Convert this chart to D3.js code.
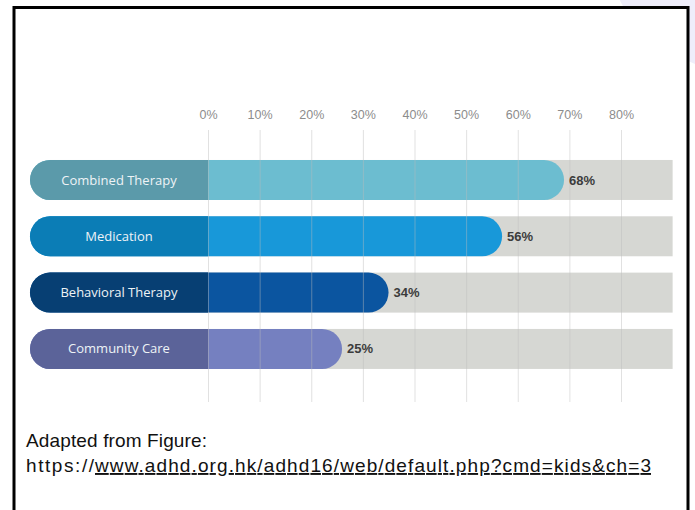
<!DOCTYPE html>
<html>
<head>
<meta charset="utf-8">
<script src="https://cdn.jsdelivr.net/npm/d3@7"></script>
<style>
  body { margin: 0; background: #fff; }
  svg { display: block; }
</style>
</head>
<body>
<div id="vis"></div>
<script>
const FRAME_WIDTH = 695;
const FRAME_HEIGHT = 510;

// data
const categories = ["Combined Therapy", "Medication", "Behavioral Therapy", "Community Care"];
const values = [68, 56, 34, 25];
const tickValues = [0, 10, 20, 30, 40, 50, 60, 70, 80];
const labelColors = ["#5b9aaa", "#0b7db6", "#073f73", "#5b6399"];
const barColors = ["#6cbdd0", "#1898d9", "#0b55a0", "#7580c0"];
const trackColor = "#d6d7d3";

const LABEL_LEFT = 30;
const GRID_TOP = 130;
const GRID_BOTTOM = 402;

const svg = d3.select("#vis")
  .append("svg")
    .attr("width", FRAME_WIDTH)
    .attr("height", FRAME_HEIGHT);

// faint lavender blob in the top-right corner, mostly hidden behind the white panel
svg.append("ellipse")
  .attr("cx", 780).attr("cy", -40)
  .attr("rx", 170).attr("ry", 120)
  .attr("fill", "#eeedfa");
svg.append("rect")
  .attr("x", 14).attr("y", 7.5)
  .attr("width", 674).attr("height", 510)
  .attr("fill", "#fff");

const X_SCALE = d3.scaleLinear()
  .domain([0, 80])
  .range([208, 621]);

const Y_SCALE = d3.scaleBand()
  .domain(categories)
  .range([151.8, 377.1])
  .paddingInner(0.29)
  .paddingOuter(0.145);

const rows = categories.map((c, i) => ({name: c, value: values[i], i: i}));
const bh = Y_SCALE.bandwidth();
const r = bh / 2;

// grey tracks
svg.selectAll(".track")
  .data(rows)
  .join("rect")
    .attr("class", "track")
    .attr("x", LABEL_LEFT + r)
    .attr("y", d => Y_SCALE(d.name))
    .attr("width", X_SCALE(90) - LABEL_LEFT - r)
    .attr("height", bh)
    .attr("fill", trackColor);

// value bars, pill shaped
svg.selectAll(".bar")
  .data(rows)
  .join("rect")
    .attr("class", "bar")
    .attr("x", LABEL_LEFT)
    .attr("y", d => Y_SCALE(d.name))
    .attr("width", d => X_SCALE(d.value) + 5 - LABEL_LEFT)
    .attr("height", bh)
    .attr("rx", r)
    .attr("fill", d => barColors[d.i]);

// darker label part on the left
svg.selectAll(".labelbox")
  .data(rows)
  .join("path")
    .attr("class", "labelbox")
    .attr("fill", d => labelColors[d.i])
    .attr("d", d => {
      const y0 = Y_SCALE(d.name), x1 = X_SCALE(0);
      return `M${x1},${y0} L${LABEL_LEFT + r},${y0} A${r},${r} 0 0 0 ${LABEL_LEFT + r},${y0 + bh} L${x1},${y0 + bh} Z`;
    });

svg.selectAll(".catlabel")
  .data(rows)
  .join("text")
    .attr("class", "catlabel")
    .attr("x", (LABEL_LEFT + X_SCALE(0)) / 2)
    .attr("y", d => Y_SCALE(d.name) + bh / 2)
    .attr("dy", "0.35em")
    .attr("text-anchor", "middle")
    .attr("font-family", "'Open Sans', sans-serif")
    .attr("font-size", "13px")
    .attr("fill", "#eef3f6")
    .text(d => d.name);

// axis with full-height grid lines, drawn over the bars
const axis = svg.append("g")
  .attr("transform", `translate(0, ${GRID_TOP})`)
  .call(d3.axisTop(X_SCALE)
    .tickValues(tickValues)
    .tickFormat(d => d + "%")
    .tickSize(-(GRID_BOTTOM - GRID_TOP))
    .tickPadding(11));

axis.select(".domain").remove();
axis.selectAll(".tick line")
  .attr("stroke", "#bdbdbd")
  .attr("stroke-opacity", 0.45);
axis.selectAll(".tick text")
  .attr("fill", "#8c8c8c")
  .attr("font-family", "'Liberation Sans', Arial, sans-serif")
  .attr("font-size", "12.5px");

svg.selectAll(".vallabel")
  .data(rows)
  .join("text")
    .attr("class", "vallabel")
    .attr("x", d => X_SCALE(d.value) + 10)
    .attr("y", d => Y_SCALE(d.name) + bh / 2)
    .attr("dy", "0.35em")
    .attr("font-family", "'Liberation Sans', Arial, sans-serif")
    .attr("font-weight", "bold")
    .attr("font-size", "13px")
    .attr("fill", "#3c3c3c")
    .text(d => d.value + "%");

// source caption
const caption = svg.append("g")
  .attr("font-family", "'Liberation Sans', Arial, sans-serif")
  .attr("font-size", "19px")
  .attr("fill", "#111");

caption.append("text")
  .attr("x", 26).attr("y", 447)
  .attr("textLength", 181)
  .attr("lengthAdjust", "spacing")
  .text("Adapted from Figure:");

const link = caption.append("text")
  .attr("y", 472);
link.append("tspan")
  .attr("x", 26)
  .attr("textLength", 68)
  .attr("lengthAdjust", "spacing")
  .text("https://");
link.append("tspan")
  .attr("x", 95)
  .attr("textLength", 556)
  .attr("lengthAdjust", "spacing")
  .attr("text-decoration", "underline")
  .text("www.adhd.org.hk/adhd16/web/default.php?cmd=kids&ch=3");

// black frame, open at the bottom
svg.append("path")
  .attr("d", "M14,520 L14,7.5 L688,7.5 L688,520")
  .attr("fill", "none")
  .attr("stroke", "#000")
  .attr("stroke-width", 3);
</script>
</body>
</html>
